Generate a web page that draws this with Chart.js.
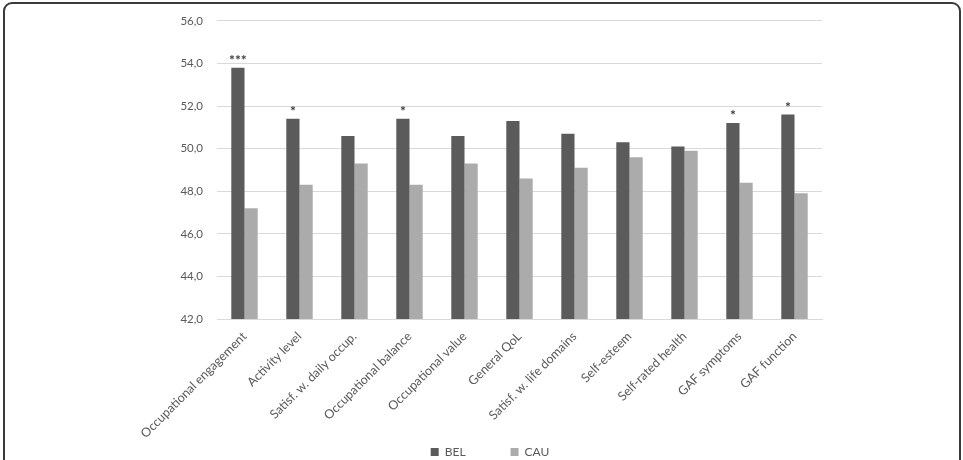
<!DOCTYPE html>
<html>
<head>
<meta charset="utf-8">
<script src="https://cdn.jsdelivr.net/npm/chart.js@4/dist/chart.umd.min.js"></script>
<style>
  html, body { margin: 0; padding: 0; background: #fff; overflow: hidden; }
  #wrap { position: relative; width: 963px; height: 460px; overflow: hidden; }
  #frame {
    position: absolute; left: 3px; top: 2px; width: 958px; height: 520px;
    border: 2px solid #3a3a3a; border-radius: 9px; box-sizing: border-box;
  }
  #box { position: absolute; left: 0; top: 0; width: 963px; height: 505px; }
</style>
</head>
<body>
<div id="wrap">
  <div id="frame"></div>
  <div id="box"><canvas id="bar-chart"></canvas></div>
</div>
<script>
// Dataset
const categories = [
  "Occupational engagement",
  "Activity level",
  "Satisf. w. daily occup.",
  "Occupational balance",
  "Occupational value",
  "General QoL",
  "Satisf. w. life domains",
  "Self-esteem",
  "Self-rated health",
  "GAF symptoms",
  "GAF function",
];
const belValues = [53.8, 51.4, 50.6, 51.4, 50.6, 51.3, 50.7, 50.3, 50.1, 51.2, 51.6];
const cauValues = [47.2, 48.3, 49.3, 48.3, 49.3, 48.6, 49.1, 49.6, 49.9, 48.4, 47.9];
const significance = ["***", "*", "", "*", "", "", "", "", "", "*", "*"];

const FONT = "Lato, 'Open Sans', sans-serif";

// asterisks above the BEL bars
const sigPlugin = {
  id: "sig",
  afterDatasetsDraw(chart) {
    const ctx = chart.ctx;
    const meta = chart.getDatasetMeta(0);
    ctx.save();
    ctx.fillStyle = "#3a3a3a";
    ctx.font = "bold 14px " + FONT;
    ctx.textAlign = "center";
    ctx.textBaseline = "alphabetic";
    meta.data.forEach((bar, i) => {
      if (significance[i]) ctx.fillText(significance[i], bar.x, bar.y - 3);
    });
    ctx.restore();
  },
};

// the x labels need more room than the legend leaves, so pull the legend up
const legendShift = {
  id: "legendShift",
  afterLayout(chart) {
    const lg = chart.legend;
    const h = lg.bottom - lg.top;
    lg.top = 401;
    lg.bottom = 401 + h;
    lg.left += 4;
    lg.right += 4;
  },
};

new Chart(document.getElementById("bar-chart"), {
  type: "bar",
  data: {
    labels: categories,
    datasets: [
      {
        label: "BEL",
        backgroundColor: "#5b5b5b",
        data: belValues,
        categoryPercentage: 0.48,
        barPercentage: 1.0,
      },
      {
        label: "CAU",
        backgroundColor: "#ababab",
        data: cauValues,
        categoryPercentage: 0.48,
        barPercentage: 1.0,
      },
    ],
  },
  options: {
    responsive: true,
    maintainAspectRatio: false,
    animation: false,
    layout: { padding: { left: 150, right: 141, top: 18, bottom: 0 } },
    plugins: {
      tooltip: { enabled: false },
      legend: {
        position: "bottom",
        labels: {
          boxWidth: 8,
          boxHeight: 8,
          padding: 45,
          color: "#595959",
          font: { family: FONT, size: 12 },
        },
      },
    },
    scales: {
      x: {
        grid: { display: false },
        border: { color: "#d9d9d9" },
        ticks: {
          color: "#595959",
          font: { family: FONT, size: 12.5 },
          minRotation: 45,
          maxRotation: 45,
          padding: 2,
        },
        afterFit(scale) { scale.height = 119; },
      },
      y: {
        min: 42,
        max: 56,
        grid: { color: "#d9d9d9", drawTicks: false },
        border: { display: false },
        ticks: {
          stepSize: 2,
          color: "#595959",
          font: { family: FONT, size: 11.5 },
          padding: 14,
          callback: (v) => v.toFixed(1).replace(".", ","),
        },
        afterFit(scale) { scale.width = 67; },
      },
    },
  },
  plugins: [sigPlugin, legendShift],
});
</script>
</body>
</html>
